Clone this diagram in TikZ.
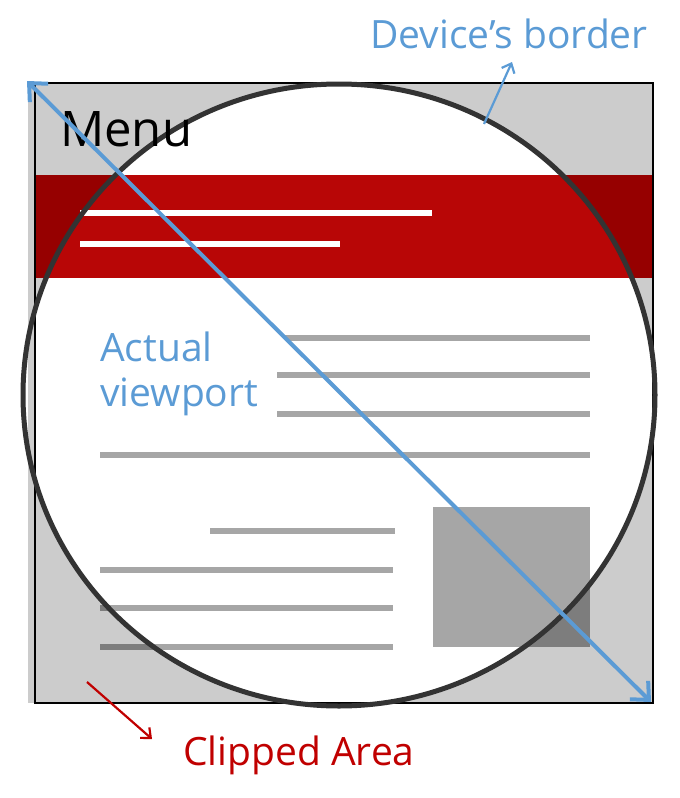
\documentclass[tikz,border=0pt]{standalone}
\usepackage{fontspec}
\setmainfont{Open Sans}
\usetikzlibrary{arrows.meta}

\definecolor{viewblue}{RGB}{91,155,213}
\definecolor{clipred}{RGB}{192,0,0}
\definecolor{screengray}{RGB}{204,204,204}
\definecolor{barlight}{RGB}{184,6,6}
\definecolor{bardark}{RGB}{150,0,0}
\definecolor{linelight}{RGB}{166,166,166}
\definecolor{linedark}{RGB}{125,125,125}
\definecolor{rimgray}{RGB}{51,51,51}

% page mock-up: bar colour, text-line colour, picture-box colour
\newcommand\drawpage[3]{%
  \fill[#1] (35,175) rectangle (653,278);
  \foreach \xa/\xb/\yy in {80/432/213, 80/340/244}
    \draw[barline] (\xa,\yy) -- (\xb,\yy);
  \foreach \xa/\xb/\yy in {285/590/338, 277/590/375, 277/590/414, 100/590/455,
                           210/395/531, 100/393/570, 100/393/608, 100/393/647}
    \draw[textline, #2] (\xa,\yy) -- (\xb,\yy);
  \fill[#3] (433,507) rectangle (590,647);
}

\begin{document}
\begin{tikzpicture}[x=1pt, y=-1pt,
    barline/.style={white, line width=6pt},
    textline/.style={line width=6.5pt},
    label/.style={inner sep=0pt, anchor=base west, font=\fontsize{39}{42}\selectfont},
    viewarrow/.style={viewblue, line width=4pt,
      {Straight Barb[length=14pt, width=26pt, line width=4pt]}-{Straight Barb[length=14pt, width=26pt, line width=4pt]}},
    thinarrow/.style={line width=2.2pt, -{Straight Barb[length=8pt, width=14pt, line width=2.2pt]}}]
    \useasboundingbox (0,0) rectangle (680,798);

    % --- 参数 ---
    \def\cx{339}   % centre of the viewport circle
    \def\cy{395}
    \def\rx{316}
    \def\ry{311}

    % --- 设备屏幕 (clipped part) ---
    \fill[screengray] (28,83) rectangle (653,703);
    \drawpage{bardark}{linedark}{linedark}

    % --- 圆内的可见部分 ---
    \begin{scope}
        \clip (\cx,\cy) ellipse (\rx pt and \ry pt);
        \fill[white] (35,83) rectangle (653,703);
        \drawpage{barlight}{linelight}{linelight}
    \end{scope}

    % --- 边框和圆 ---
    \draw[line width=2pt] (28,83) -- (653,83) -- (653,703) -- (35,703) -- (35,83);
    \draw[rimgray, line width=5pt] (\cx,\cy) ellipse (\rx pt and \ry pt);

    \node[label, font=\fontsize{49}{52}\selectfont] (menu) at (60,146) {Menu};

    % --- 对角线 ---
    \coordinate (topleft) at (27,81);
    \coordinate (bottomright) at (651,702);
    \draw[viewarrow] (topleft) -- (bottomright);

    % --- 标签 ---
    \node[label, viewblue] (border) at (370,48) {Device’s border};
    \coordinate (rim) at (484,124);
    \coordinate (rimtip) at (512,62);
    \draw[thinarrow, viewblue] (rim) -- (rimtip);

    \node[label, viewblue] (actual) at (100,361) {Actual};
    \node[label, viewblue] (viewport) at (100,406) {viewport};

    \node[label, clipred] (clipped) at (183,765) {Clipped Area};
    \coordinate (clipfrom) at (87,682);
    \coordinate (clipto) at (152,739);
    \draw[thinarrow, clipred] (clipfrom) -- (clipto);

\end{tikzpicture}
\end{document}
